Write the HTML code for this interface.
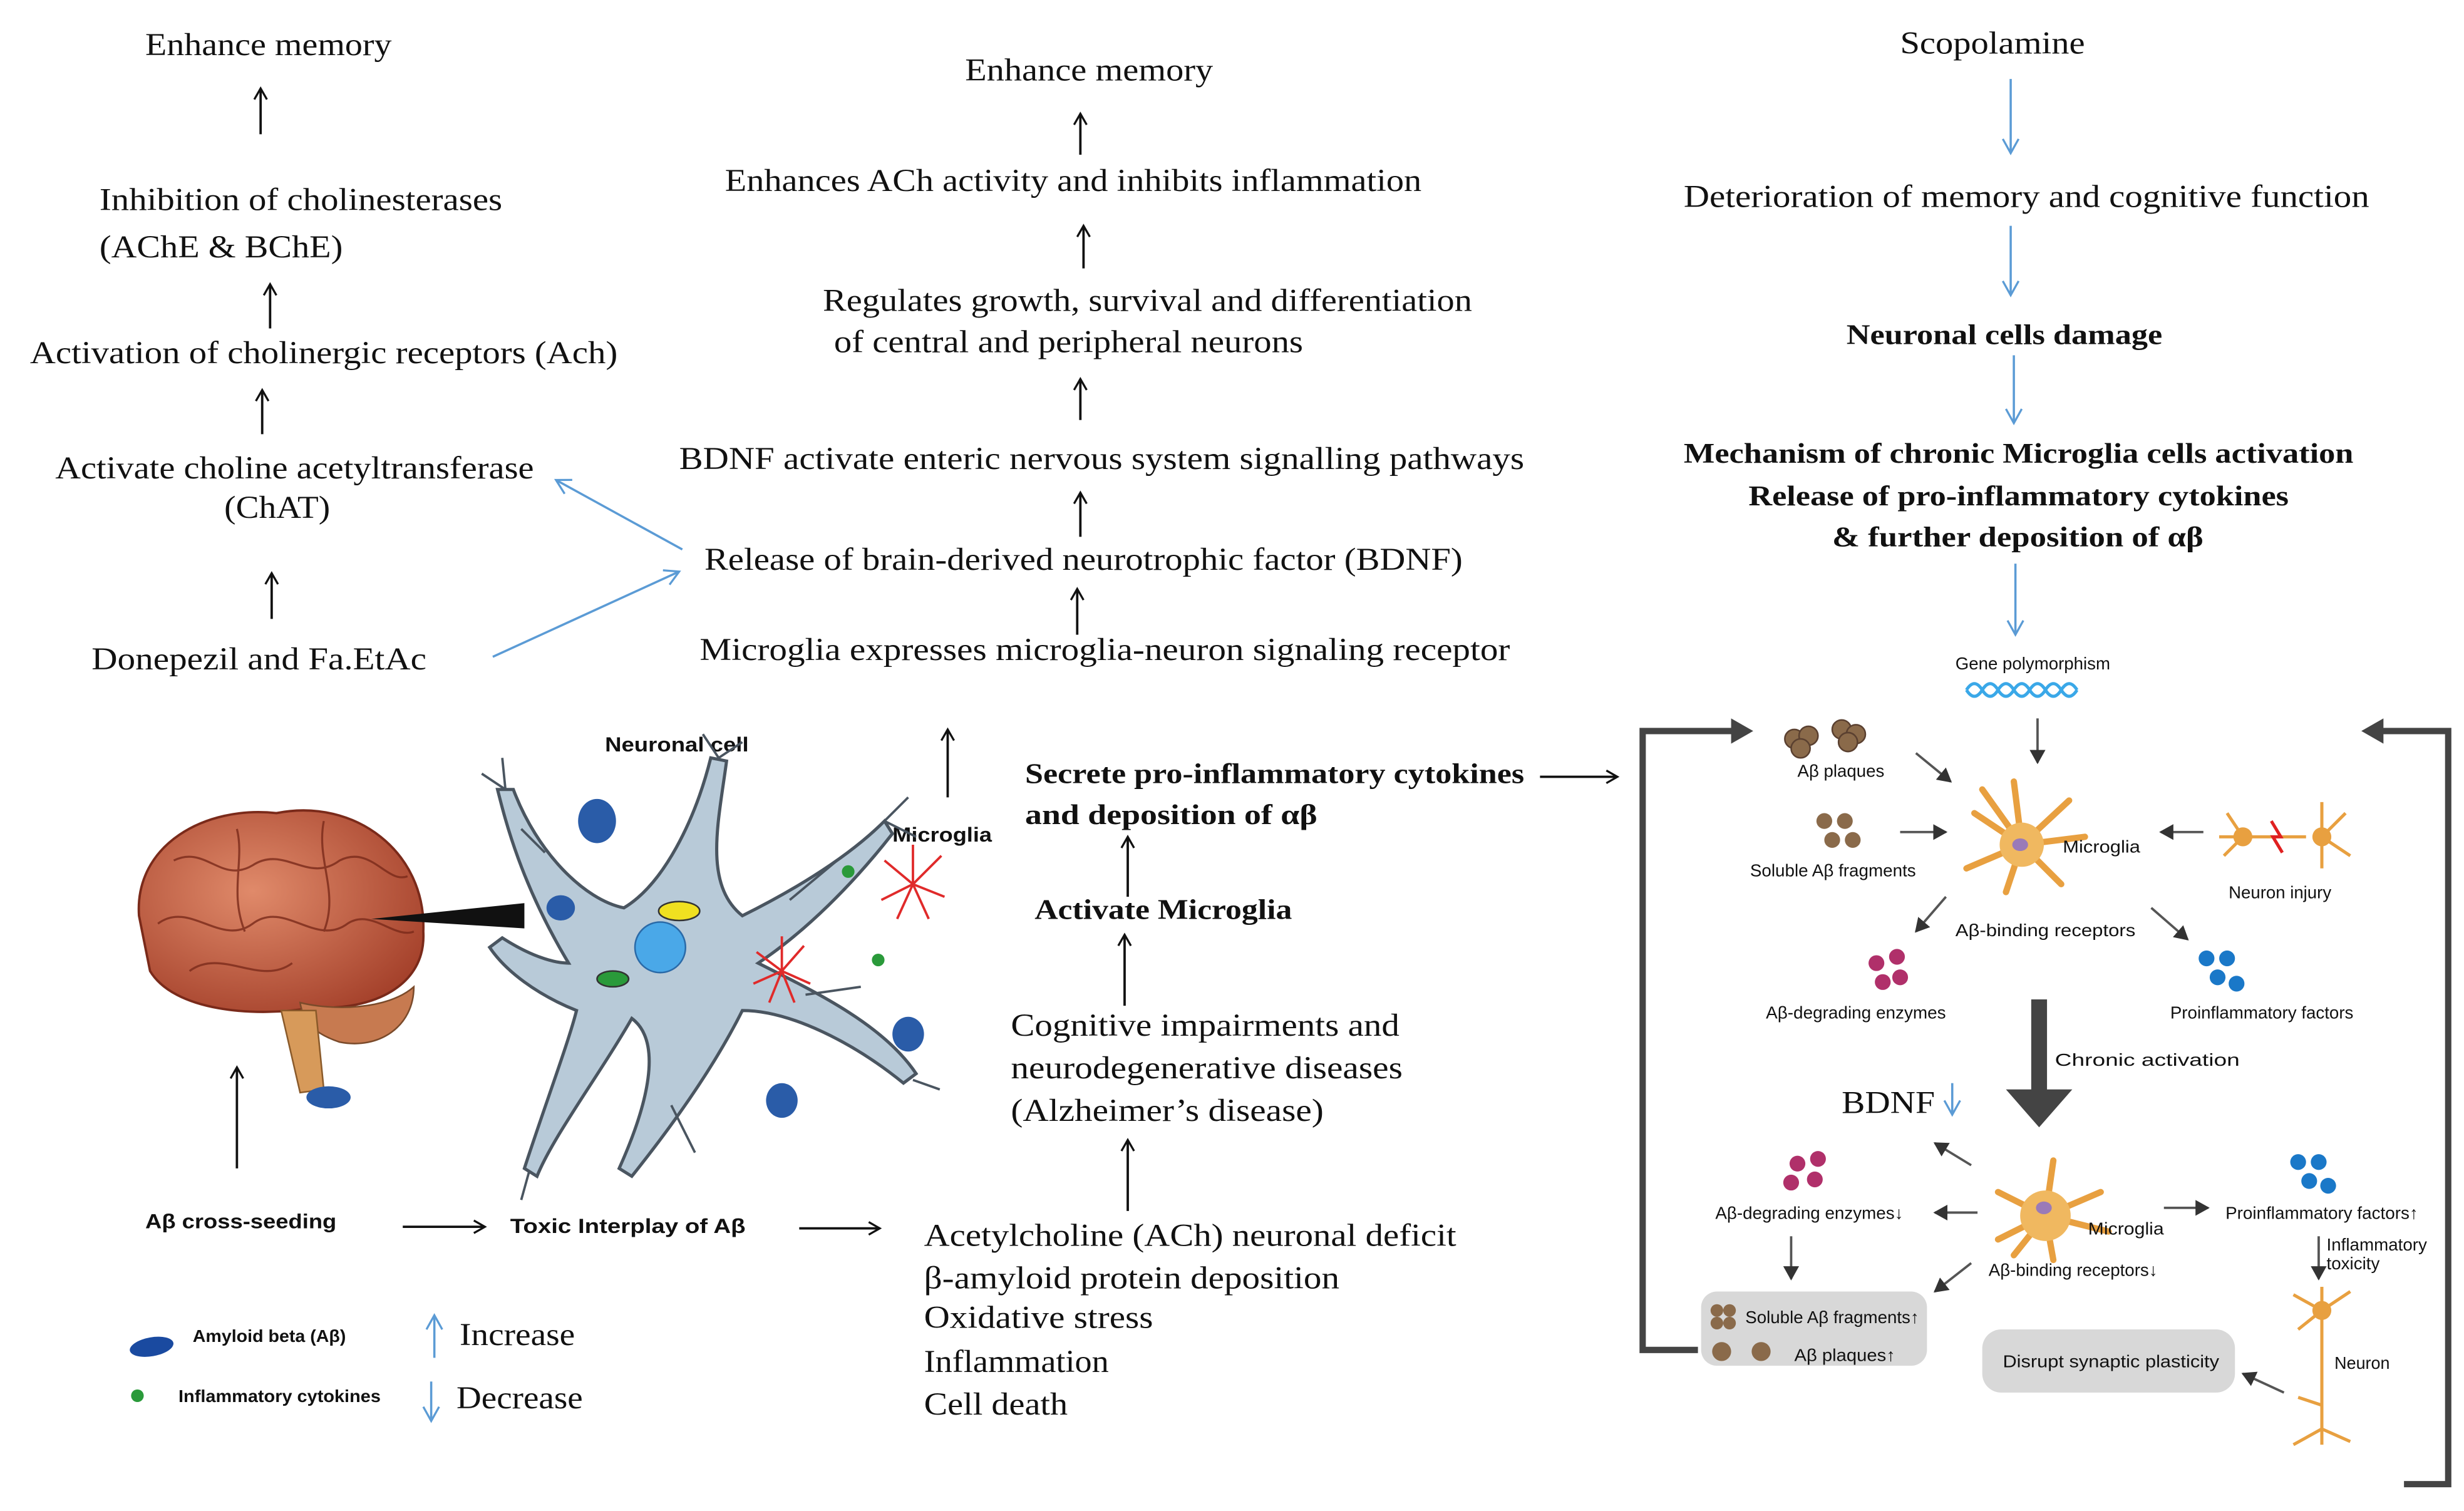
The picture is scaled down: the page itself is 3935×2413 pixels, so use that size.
<!DOCTYPE html>
<html><head><meta charset="utf-8"><style>
html,body{margin:0;padding:0;background:#fff;}
svg{display:block;}
.s{font-family:"Liberation Serif",serif;font-size:20px;fill:#111;}
.sb{font-family:"Liberation Serif",serif;font-size:18px;font-weight:bold;fill:#111;}
.a{font-family:"Liberation Sans",sans-serif;font-size:11px;fill:#111;}
.ab{font-family:"Liberation Sans",sans-serif;font-size:13px;font-weight:bold;fill:#111;}
.k{stroke:#111;stroke-width:1.5;fill:none;marker-end:url(#ka);}
.b{stroke:#5b9bd5;stroke-width:1.4;fill:none;marker-end:url(#ba);}
.g{stroke:#555;stroke-width:1.5;fill:none;marker-end:url(#ga);}
</style></head><body>
<svg width="3935" height="2413" viewBox="0 0 1560 957" preserveAspectRatio="none" xmlns="http://www.w3.org/2000/svg">
<defs>
<marker id="ka" markerWidth="10" markerHeight="10" refX="8" refY="5" orient="auto" markerUnits="userSpaceOnUse"><path d="M1,1 L8,5 L1,9" fill="none" stroke="#111" stroke-width="1.3"/></marker>
<marker id="ba" markerWidth="12" markerHeight="12" refX="10" refY="6" orient="auto" markerUnits="userSpaceOnUse"><path d="M1,1 L10,6 L1,11" fill="none" stroke="#5b9bd5" stroke-width="1.3"/></marker>
<marker id="ga" markerWidth="10" markerHeight="10" refX="8" refY="5" orient="auto" markerUnits="userSpaceOnUse"><path d="M0,0 L9,5 L0,10z" fill="#333"/></marker>
<radialGradient id="br" cx="0.4" cy="0.4" r="0.7"><stop offset="0" stop-color="#e08a6a"/><stop offset="1" stop-color="#a4402a"/></radialGradient>
</defs>
<rect width="1560" height="957" fill="#fff"/>
<g lengthAdjust="spacingAndGlyphs">
<!-- Left column -->
<text class="s" x="92" y="35" textLength="156" lengthAdjust="spacingAndGlyphs">Enhance memory</text>
<line class="k" x1="165" y1="85" x2="165" y2="56"/>
<text class="s" x="63" y="133" textLength="255" lengthAdjust="spacingAndGlyphs">Inhibition  of cholinesterases</text>
<text class="s" x="63" y="163" textLength="154" lengthAdjust="spacingAndGlyphs">(AChE &amp; BChE)</text>
<line class="k" x1="171" y1="208" x2="171" y2="180"/>
<text class="s" x="19" y="230" textLength="372" lengthAdjust="spacingAndGlyphs">Activation  of cholinergic  receptors (Ach)</text>
<line class="k" x1="166" y1="275" x2="166" y2="247"/>
<text class="s" x="35" y="303" textLength="303" lengthAdjust="spacingAndGlyphs">Activate  choline  acetyltransferase</text>
<text class="s" x="142" y="328" textLength="67" lengthAdjust="spacingAndGlyphs">(ChAT)</text>
<line class="k" x1="172" y1="392" x2="172" y2="363"/>
<text class="s" x="58" y="424" textLength="212" lengthAdjust="spacingAndGlyphs">Donepezil  and  Fa.EtAc</text>
<line class="b" x1="312" y1="416" x2="430" y2="362"/>
<line class="b" x1="432" y1="348" x2="352" y2="304"/>

<!-- Middle column -->
<text class="s" x="611" y="51" textLength="157" lengthAdjust="spacingAndGlyphs">Enhance memory</text>
<line class="k" x1="684" y1="98" x2="684" y2="72"/>
<text class="s" x="459" y="121" textLength="441" lengthAdjust="spacingAndGlyphs">Enhances ACh activity  and inhibits  inflammation</text>
<line class="k" x1="686" y1="170" x2="686" y2="143"/>
<text class="s" x="521" y="197" textLength="411" lengthAdjust="spacingAndGlyphs">Regulates growth,  survival and differentiation</text>
<text class="s" x="528" y="223" textLength="297" lengthAdjust="spacingAndGlyphs">of central  and  peripheral  neurons</text>
<line class="k" x1="684" y1="266" x2="684" y2="240"/>
<text class="s" x="430" y="297" textLength="535" lengthAdjust="spacingAndGlyphs">BDNF  activate  enteric  nervous  system  signalling   pathways</text>
<line class="k" x1="684" y1="340" x2="684" y2="312"/>
<text class="s" x="446" y="361" textLength="480" lengthAdjust="spacingAndGlyphs">Release  of brain-derived  neurotrophic factor (BDNF)</text>
<line class="k" x1="682" y1="402" x2="682" y2="373"/>
<text class="s" x="443" y="418" textLength="513" lengthAdjust="spacingAndGlyphs">Microglia  expresses microglia-neuron  signaling  receptor</text>
<line class="k" x1="600" y1="505" x2="600" y2="462"/>
<text class="sb" x="649" y="496" textLength="316" lengthAdjust="spacingAndGlyphs">Secrete pro-inflammatory cytokines</text>
<text class="sb" x="649" y="522" textLength="185" lengthAdjust="spacingAndGlyphs">and deposition of αβ</text>
<line class="k" x1="975" y1="492" x2="1024" y2="492"/>
<line class="k" x1="714" y1="568" x2="714" y2="530"/>
<text class="sb" x="655" y="582" textLength="163" lengthAdjust="spacingAndGlyphs">Activate Microglia</text>
<line class="k" x1="712" y1="637" x2="712" y2="592"/>
<text class="s" x="640" y="656" textLength="246" lengthAdjust="spacingAndGlyphs">Cognitive  impairments  and</text>
<text class="s" x="640" y="683" textLength="248" lengthAdjust="spacingAndGlyphs">neurodegenerative  diseases</text>
<text class="s" x="640" y="710" textLength="198" lengthAdjust="spacingAndGlyphs">(Alzheimer’s  disease)</text>
<line class="k" x1="714" y1="767" x2="714" y2="722"/>
<text class="s" x="585" y="789" textLength="337" lengthAdjust="spacingAndGlyphs">Acetylcholine  (ACh) neuronal  deficit</text>
<text class="s" x="585" y="816" textLength="263" lengthAdjust="spacingAndGlyphs">β-amyloid  protein  deposition</text>
<text class="s" x="585" y="841" textLength="145" lengthAdjust="spacingAndGlyphs">Oxidative  stress</text>
<text class="s" x="585" y="869" textLength="117" lengthAdjust="spacingAndGlyphs">Inflammation</text>
<text class="s" x="585" y="896" textLength="91" lengthAdjust="spacingAndGlyphs">Cell death</text>

<!-- Brain -->
<path d="M88,580 C85,535 130,510 175,515 C225,505 270,540 268,590 C270,625 235,640 200,638 C160,645 110,640 95,615 Z" fill="url(#br)" stroke="#7a2a1a" stroke-width="1.5"/>
<g stroke="#7a2a1a" stroke-width="1.3" fill="none" opacity="0.8">
<path d="M110,545 C130,535 140,560 160,548 C180,535 195,560 215,545 C235,535 245,560 258,555"/>
<path d="M100,585 C120,570 140,600 160,585 C180,570 200,600 220,585 C235,575 250,595 262,590"/>
<path d="M120,615 C140,600 165,625 185,610"/>
<path d="M150,525 C155,545 145,565 155,590"/>
<path d="M205,520 C200,545 215,565 205,590"/>
</g>
<path d="M190,635 C210,640 245,640 262,625 C262,650 240,665 215,660 C200,655 192,648 190,635Z" fill="#c77a50" stroke="#7a4a2a"/>
<path d="M178,640 L200,640 L205,690 L190,692 Z" fill="#d79a5a" stroke="#8a5a2a"/>
<ellipse cx="208" cy="695" rx="14" ry="7" fill="#2a5ca8"/>
<path d="M235,582 L332,572 L332,588 Z" fill="#111"/>
<line class="k" x1="150" y1="740" x2="150" y2="676"/>

<!-- Neuron -->
<text class="ab" x="383" y="476" textLength="91" lengthAdjust="spacingAndGlyphs">Neuronal cell</text>
<text class="ab" x="565" y="533" textLength="63" lengthAdjust="spacingAndGlyphs">Microglia</text>
<g stroke="#4a5560" stroke-width="2" fill="#b8cad8">
<path d="M360,610 C330,560 320,520 315,500 L325,500 C340,540 370,570 395,575 C420,560 440,520 450,480 L460,482 C455,520 445,560 470,580 C510,560 540,540 560,520 L565,528 C540,560 510,590 480,610 C520,630 560,650 580,680 L572,686 C540,660 500,640 470,640 C450,680 420,720 400,745 L392,740 C410,700 420,660 400,645 C380,680 350,720 340,745 L332,740 C345,700 360,660 365,640 C340,630 320,615 310,600 L318,594 C335,605 350,610 360,610 Z"/>
</g>
<g stroke="#4a5560" stroke-width="1.5" fill="none">
<path d="M320,500 L305,490 M320,500 L318,480 M455,480 L445,465 M455,480 L470,470 M560,520 L575,505 M560,520 L580,530 M578,684 L595,690 M335,742 L330,760 M500,570 L530,545 M510,630 L545,625 M345,540 L330,525 M425,700 L440,730"/>
</g>
<circle cx="418" cy="600" r="16" fill="#4aa8e8" stroke="#2a6aa8"/>
<ellipse cx="430" cy="577" rx="13" ry="6" fill="#f0e020" stroke="#333"/>
<ellipse cx="388" cy="620" rx="10" ry="5" fill="#2a9a3a" stroke="#333"/>
<g fill="#2a5ca8">
<ellipse cx="378" cy="520" rx="12" ry="14"/><ellipse cx="355" cy="575" rx="9" ry="8"/>
<ellipse cx="575" cy="655" rx="10" ry="11"/><ellipse cx="495" cy="697" rx="10" ry="11"/>
</g>
<g stroke="#e02a2a" stroke-width="1.5" fill="none">
<path d="M578,560 l-18,-15 M578,560 l18,-18 M578,560 l0,-25 M578,560 l-20,10 M578,560 l20,8 M578,560 l-10,22 M578,560 l10,22"/>
<path d="M495,615 l-16,-12 M495,615 l14,-16 M495,615 l0,-22 M495,615 l-18,8 M495,615 l18,8 M495,615 l-8,20 M495,615 l8,20"/>
</g>
<circle cx="537" cy="552" r="4" fill="#2a9a3a"/><circle cx="556" cy="608" r="4" fill="#2a9a3a"/>

<text class="ab" x="92" y="778" textLength="121" lengthAdjust="spacingAndGlyphs">Aβ cross-seeding</text>
<line class="k" x1="255" y1="777" x2="307" y2="777"/>
<text class="ab" x="323" y="781" textLength="149" lengthAdjust="spacingAndGlyphs">Toxic Interplay of  Aβ</text>
<line class="k" x1="506" y1="778" x2="557" y2="778"/>
<ellipse cx="96" cy="853" rx="14" ry="6" fill="#1a4aa0" transform="rotate(-10 96 853)"/>
<text class="a" x="122" y="850" font-weight="bold" textLength="97" lengthAdjust="spacingAndGlyphs">Amyloid beta (Aβ)</text>
<circle cx="87" cy="884" r="4" fill="#2a9a3a"/>
<text class="a" x="113" y="888" font-weight="bold" textLength="128" lengthAdjust="spacingAndGlyphs">Inflammatory cytokines</text>
<line class="b" x1="275" y1="860" x2="275" y2="833"/>
<text class="s" x="291" y="852" textLength="73" lengthAdjust="spacingAndGlyphs">Increase</text>
<line class="b" x1="273" y1="875" x2="273" y2="900"/>
<text class="s" x="289" y="892" textLength="80" lengthAdjust="spacingAndGlyphs">Decrease</text>

<!-- Right column -->
<text class="s" x="1203" y="34" textLength="117" lengthAdjust="spacingAndGlyphs">Scopolamine</text>
<line class="b" x1="1273" y1="50" x2="1273" y2="97"/>
<text class="s" x="1066" y="131" textLength="434" lengthAdjust="spacingAndGlyphs">Deterioration  of memory and cognitive  function</text>
<line class="b" x1="1273" y1="143" x2="1273" y2="187"/>
<text class="sb" x="1169" y="218" textLength="200" lengthAdjust="spacingAndGlyphs">Neuronal cells damage</text>
<line class="b" x1="1275" y1="225" x2="1275" y2="268"/>
<text class="sb" x="1066" y="293" textLength="424" lengthAdjust="spacingAndGlyphs">Mechanism of chronic Microglia cells activation</text>
<text class="sb" x="1107" y="320" textLength="342" lengthAdjust="spacingAndGlyphs">Release of pro-inflammatory cytokines</text>
<text class="sb" x="1160" y="346" textLength="235" lengthAdjust="spacingAndGlyphs">&amp; further deposition of αβ</text>
<line class="b" x1="1276" y1="357" x2="1276" y2="402"/>

<!-- Right diagram -->
<path d="M1075,855 L1040,855 L1040,463 L1100,463" stroke="#444" stroke-width="4" fill="none"/>
<path d="M1096,455 L1110,463 L1096,471Z" fill="#444"/>
<path d="M1522,940 L1550,940 L1550,463 L1505,463" stroke="#444" stroke-width="4" fill="none"/>
<path d="M1509,455 L1495,463 L1509,471Z" fill="#444"/>
<text class="a" x="1238" y="424" textLength="98" lengthAdjust="spacingAndGlyphs">Gene polymorphism</text>
<path d="M1245,437 q5,-8 10,0 t10,0 t10,0 t10,0 t10,0 t10,0 t10,0" stroke="#3aa8e8" stroke-width="2" fill="none"/>
<path d="M1245,437 q5,8 10,0 t10,0 t10,0 t10,0 t10,0 t10,0 t10,0" stroke="#3aa8e8" stroke-width="2" fill="none"/>
<line class="g" x1="1290" y1="455" x2="1290" y2="483"/>
<g fill="#8a6a4a" stroke="#5a4030"><circle cx="1136" cy="468" r="6"/><circle cx="1145" cy="466" r="6"/><circle cx="1140" cy="474" r="6"/><circle cx="1166" cy="462" r="6"/><circle cx="1175" cy="465" r="6"/><circle cx="1170" cy="470" r="6"/></g>
<text class="a" x="1138" y="492" textLength="55" lengthAdjust="spacingAndGlyphs">Aβ plaques</text>
<g fill="#8a6a4a"><circle cx="1155" cy="520" r="5"/><circle cx="1168" cy="520" r="5"/><circle cx="1160" cy="532" r="5"/><circle cx="1173" cy="532" r="5"/></g>
<text class="a" x="1108" y="555" textLength="105" lengthAdjust="spacingAndGlyphs">Soluble Aβ fragments</text>
<g stroke="#e8a040" stroke-width="4" fill="none" stroke-linecap="round">
<path d="M1280,535 l-30,-20 M1280,535 l-35,15 M1280,535 l-10,30 M1280,535 l25,25 M1280,535 l40,-5 M1280,535 l30,-28 M1280,535 l-5,-40 M1280,535 l-25,-35"/>
<path d="M1295,770 l-30,-15 M1295,770 l-30,15 M1295,770 l5,-35 M1295,770 l35,-15 M1295,770 l40,10 M1295,770 l5,28 M1295,770 l-20,25"/>
</g>
<circle cx="1280" cy="535" r="14" fill="#f0b860"/><ellipse cx="1279" cy="535" rx="5" ry="4" fill="#9a7ab8"/>
<circle cx="1295" cy="770" r="16" fill="#f0b860"/><ellipse cx="1294" cy="765" rx="5" ry="4" fill="#9a7ab8"/>
<text class="a" x="1306" y="540" textLength="49" lengthAdjust="spacingAndGlyphs">Microglia</text>
<text class="a" x="1238" y="593" textLength="114" lengthAdjust="spacingAndGlyphs">Aβ-binding receptors</text>
<g stroke="#e8a040" stroke-width="2" fill="none"><path d="M1405,530 l55,0 M1420,530 l-10,-15 M1420,530 l-12,12 M1470,530 l15,-15 M1470,530 l18,12 M1470,530 l0,-22 M1470,530 l0,20"/></g>
<circle cx="1420" cy="530" r="6" fill="#e8a040"/><circle cx="1470" cy="530" r="6" fill="#e8a040"/>
<path d="M1438,520 l6,10 l-5,0 l6,10" stroke="#e02020" stroke-width="2" fill="none"/>
<text class="a" x="1411" y="569" textLength="65" lengthAdjust="spacingAndGlyphs">Neuron injury</text>
<line class="g" x1="1213" y1="477" x2="1235" y2="495"/>
<line class="g" x1="1203" y1="527" x2="1232" y2="527"/>
<line class="g" x1="1395" y1="527" x2="1368" y2="527"/>
<line class="g" x1="1232" y1="568" x2="1213" y2="590"/>
<line class="g" x1="1362" y1="575" x2="1385" y2="595"/>
<g fill="#b0306a"><circle cx="1188" cy="610" r="5"/><circle cx="1201" cy="606" r="5"/><circle cx="1192" cy="622" r="5"/><circle cx="1203" cy="619" r="5"/></g>
<text class="a" x="1118" y="645" textLength="114" lengthAdjust="spacingAndGlyphs">Aβ-degrading enzymes</text>
<g fill="#1a78c8"><circle cx="1397" cy="607" r="5"/><circle cx="1410" cy="607" r="5"/><circle cx="1404" cy="619" r="5"/><circle cx="1416" cy="623" r="5"/></g>
<text class="a" x="1374" y="645" textLength="116" lengthAdjust="spacingAndGlyphs">Proinflammatory factors</text>
<path d="M1286,633 L1296,633 L1296,690 L1312,690 L1291,714 L1270,690 L1286,690Z" fill="#444"/>
<text class="a" x="1301" y="675" font-size="13" textLength="117" lengthAdjust="spacingAndGlyphs">Chronic activation</text>
<text class="s" x="1166" y="705" textLength="59" lengthAdjust="spacingAndGlyphs">BDNF</text>
<line class="b" x1="1236" y1="686" x2="1236" y2="706"/>
<g fill="#b0306a"><circle cx="1138" cy="737" r="5"/><circle cx="1151" cy="734" r="5"/><circle cx="1134" cy="749" r="5"/><circle cx="1149" cy="747" r="5"/></g>
<text class="a" x="1086" y="772" textLength="119" lengthAdjust="spacingAndGlyphs">Aβ-degrading enzymes↓</text>
<g fill="#1a78c8"><circle cx="1455" cy="736" r="5"/><circle cx="1468" cy="736" r="5"/><circle cx="1462" cy="748" r="5"/><circle cx="1474" cy="751" r="5"/></g>
<text class="a" x="1409" y="772" textLength="122" lengthAdjust="spacingAndGlyphs">Proinflammatory factors↑</text>
<text class="a" x="1322" y="782" textLength="48" lengthAdjust="spacingAndGlyphs">Microglia</text>
<text class="a" x="1259" y="808" textLength="107" lengthAdjust="spacingAndGlyphs">Aβ-binding receptors↓</text>
<line class="g" x1="1248" y1="738" x2="1225" y2="724"/>
<line class="g" x1="1252" y1="768" x2="1225" y2="768"/>
<line class="g" x1="1370" y1="765" x2="1398" y2="765"/>
<line class="g" x1="1248" y1="800" x2="1225" y2="818"/>
<line class="g" x1="1134" y1="783" x2="1134" y2="810"/>
<line class="g" x1="1468" y1="783" x2="1468" y2="810"/>
<text class="a" x="1473" y="792" font-size="10">Inflammatory</text>
<text class="a" x="1473" y="804" font-size="10">toxicity</text>
<rect x="1077" y="818" width="143" height="47" rx="10" fill="#d8d8d8"/>
<g fill="#8a6a4a"><circle cx="1087" cy="830" r="4"/><circle cx="1095" cy="830" r="4"/><circle cx="1087" cy="838" r="4"/><circle cx="1095" cy="838" r="4"/><circle cx="1090" cy="856" r="6"/><circle cx="1115" cy="856" r="6"/></g>
<text class="a" x="1105" y="838" font-size="10" textLength="110" lengthAdjust="spacingAndGlyphs">Soluble Aβ fragments↑</text>
<text class="a" x="1136" y="862" font-size="10" textLength="64" lengthAdjust="spacingAndGlyphs">Aβ plaques↑</text>
<rect x="1255" y="842" width="160" height="40" rx="12" fill="#d8d8d8"/>
<text class="a" x="1268" y="866" font-size="12" textLength="137" lengthAdjust="spacingAndGlyphs">Disrupt synaptic plasticity</text>
<g stroke="#e8a040" stroke-width="2" fill="none"><path d="M1470,815 l0,100 M1470,830 l-18,-10 M1470,830 l18,-12 M1470,830 l-15,12 M1470,905 l-18,10 M1470,905 l18,8 M1470,890 l-15,-5"/></g>
<circle cx="1470" cy="830" r="6" fill="#e8a040"/>
<text class="a" x="1478" y="867" textLength="35" lengthAdjust="spacingAndGlyphs">Neuron</text>
<line class="g" x1="1446" y1="882" x2="1420" y2="870"/>
</g>
</svg>
</body></html>
